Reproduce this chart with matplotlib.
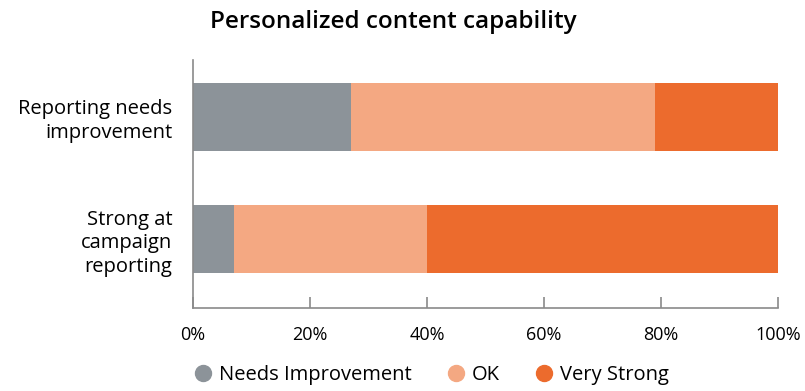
"""Personalized content capability - stacked horizontal bars."""
import matplotlib.pyplot as plt
import matplotlib.ticker as tkr
from matplotlib.lines import Line2D

plt.rcParams['font.family'] = ['Open Sans', 'DejaVu Sans']

categories = ["Strong at\ncampaign\nreporting", "Reporting needs\nimprovement"]
series_names = ["Needs Improvement", "OK", "Very Strong"]
needs_improvement = [7, 27]
ok = [33, 52]
very_strong = [60, 21]
ticks = [0, 20, 40, 60, 80, 100]

colors = ["#8C9399", "#F4A882", "#EC6B2D"]
axis_color = "#8a8a8a"

fig = plt.figure(figsize=(8.05, 3.91), dpi=100)
ax = fig.add_axes([0.2398, 0.2123, 0.7267, 0.6342])

ypos = range(len(categories))
left = [0] * len(categories)
for vals, col in zip([needs_improvement, ok, very_strong], colors):
    ax.barh(ypos, vals, left=left, height=0.56, color=col)
    left = [a + b for a, b in zip(left, vals)]

ax.set_xlim(0, 100)
ax.set_ylim(-0.566, 1.467)
ax.set_yticks(list(ypos))
ax.set_yticklabels(categories, fontsize=14.5, ha='right',
                   multialignment='right', linespacing=1.25)
ax.tick_params(axis='y', length=0, pad=15)
ax.set_xticks(ticks)
ax.xaxis.set_major_formatter(tkr.FuncFormatter(lambda x, pos: '{:d}%'.format(int(x))))
ax.tick_params(axis='x', direction='in', length=8, width=1.2, color=axis_color,
               labelsize=13, pad=13)

for s in ['top', 'right']:
    ax.spines[s].set_visible(False)
for s in ['left', 'bottom']:
    ax.spines[s].set_color(axis_color)
    ax.spines[s].set_linewidth(1.2)

fig.text(0.489, 0.945, "Personalized content capability", ha='center', va='center',
         fontsize=17.5, fontweight='semibold')

handles = [Line2D([], [], marker='o', linestyle='', markersize=11.5,
                  markerfacecolor=c, markeredgecolor=c) for c in colors]
fig.legend(handles, series_names, loc='center', bbox_to_anchor=(0.534, 0.041),
           ncol=3, frameon=False, fontsize=14.5, handletextpad=0.2,
           columnspacing=1.6, handlelength=1.2)

fig.savefig("out.png", dpi=100)
